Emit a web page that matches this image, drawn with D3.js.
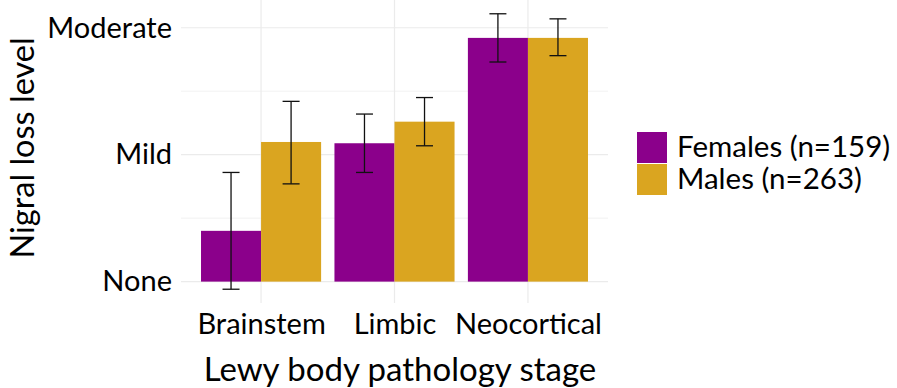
<!DOCTYPE html>
<html>
<head>
<meta charset="utf-8">
<script src="https://cdn.jsdelivr.net/npm/d3@7"></script>
<style>
  body { margin: 0; background: #fff; }
  svg text { font-family: Lato, "Open Sans", sans-serif; fill: #000; }
</style>
</head>
<body>
<script>
// categories and groups
var stages = ["Brainstem", "Limbic", "Neocortical"];
var groups = ["Females (n=159)", "Males (n=263)"];
var groupColors = ["#8B008B", "#DAA520"];

// mean nigral loss level, per stage (0 = None, 1 = Mild, 2 = Moderate)
var femaleMean = [0.40, 1.09, 1.92];
var maleMean = [1.10, 1.26, 1.92];
// error bar ends
var femaleLow = [-0.06, 0.86, 1.73];
var femaleHigh = [0.86, 1.32, 2.11];
var maleLow = [0.77, 1.07, 1.78];
var maleHigh = [1.42, 1.45, 2.07];

var levelTicks = [0, 1, 2];
var levelLabels = ["None", "Mild", "Moderate"];

var width = 897;
var height = 388;
var margin = {left: 181, right: 289, top: 0, bottom: 85};

var svg = d3.select("body").append("svg")
    .attr("width", width)
    .attr("height", height);

var plotW = width - margin.left - margin.right;
var plotH = height - margin.top - margin.bottom;

// discrete x scale with ggplot-like 0.6 expansion on each side
var x = d3.scalePoint()
    .domain(stages)
    .range([margin.left, margin.left + plotW])
    .padding(0.6);
var step = x.step();

var lo = d3.min(femaleLow.concat(maleLow));
var hi = d3.max(femaleHigh.concat(maleHigh));
var pad = (hi - lo) * 0.05;
var y = d3.scaleLinear()
    .domain([lo - pad, hi + pad])
    .range([margin.top + plotH, margin.top]);

var g = svg.append("g");

// grid: minor lines
var minor = [0.5, 1.5];
g.selectAll(".minor").data(minor).enter().append("line")
    .attr("x1", margin.left).attr("x2", margin.left + plotW)
    .attr("y1", function(d) { return y(d); })
    .attr("y2", function(d) { return y(d); })
    .attr("stroke", "#f2f2f2").attr("stroke-width", 1);

g.selectAll(".major").data(levelTicks).enter().append("line")
    .attr("x1", margin.left).attr("x2", margin.left + plotW)
    .attr("y1", function(d) { return y(d); })
    .attr("y2", function(d) { return y(d); })
    .attr("stroke", "#ebebeb").attr("stroke-width", 1.2);

g.selectAll(".vgrid").data(stages).enter().append("line")
    .attr("x1", function(d) { return x(d); })
    .attr("x2", function(d) { return x(d); })
    .attr("y1", margin.top).attr("y2", margin.top + plotH)
    .attr("stroke", "#ebebeb").attr("stroke-width", 1.2);

// bars
var dodge = step * 0.9;
var barW = dodge / 2;
var means = [femaleMean, maleMean];
var lows = [femaleLow, maleLow];
var highs = [femaleHigh, maleHigh];

groups.forEach(function(grp, gi) {
  g.selectAll(".bar" + gi).data(stages).enter().append("rect")
      .attr("x", function(d) { return x(d) - dodge / 2 + gi * barW; })
      .attr("y", function(d, i) { return y(Math.max(0, means[gi][i])); })
      .attr("width", barW)
      .attr("height", function(d, i) { return Math.abs(y(0) - y(means[gi][i])); })
      .attr("fill", groupColors[gi]);
});

// error bars
var capW = 17;
groups.forEach(function(grp, gi) {
  stages.forEach(function(s, i) {
    var mx = x(s) - dodge / 2 + gi * barW + barW / 2;
    var e = g.append("g").attr("stroke", "#111").attr("stroke-width", 1.3);
    e.append("line").attr("x1", mx).attr("x2", mx)
        .attr("y1", y(lows[gi][i])).attr("y2", y(highs[gi][i]));
    e.append("line").attr("x1", mx - capW / 2).attr("x2", mx + capW / 2)
        .attr("y1", y(lows[gi][i])).attr("y2", y(lows[gi][i]));
    e.append("line").attr("x1", mx - capW / 2).attr("x2", mx + capW / 2)
        .attr("y1", y(highs[gi][i])).attr("y2", y(highs[gi][i]));
  });
});

// y axis labels
var yAxis = d3.axisLeft(y).tickValues(levelTicks)
    .tickFormat(function(d, i) { return levelLabels[i]; })
    .tickSize(0).tickPadding(9);
var ya = svg.append("g").attr("transform", "translate(" + margin.left + ",0)").call(yAxis);
ya.select(".domain").remove();
ya.selectAll("text").style("font-size", "29px").attr("font-family", null);

// x axis labels
var xAxis = d3.axisBottom(x).tickSize(0).tickPadding(10);
var xa = svg.append("g").attr("transform", "translate(0," + (margin.top + plotH) + ")").call(xAxis);
xa.select(".domain").remove();
xa.selectAll("text").style("font-size", "29px").attr("font-family", null);

// axis titles
svg.append("text").attr("x", 400).attr("y", 381)
    .attr("text-anchor", "middle").style("font-size", "33px")
    .text("Lewy body pathology stage");
svg.append("text")
    .attr("transform", "translate(34,148) rotate(-90)")
    .attr("text-anchor", "middle").style("font-size", "32.5px")
    .text("Nigral loss level");

// legend
var legend = svg.append("g").attr("transform", "translate(637,132)");
groups.forEach(function(grp, gi) {
  legend.append("rect").attr("x", 0).attr("y", gi * 32)
      .attr("width", 30).attr("height", 31)
      .attr("fill", groupColors[gi]);
  legend.append("text").attr("x", 40).attr("y", gi * 32 + 25)
      .style("font-size", "29.5px").text(grp);
});
</script>
</body>
</html>
